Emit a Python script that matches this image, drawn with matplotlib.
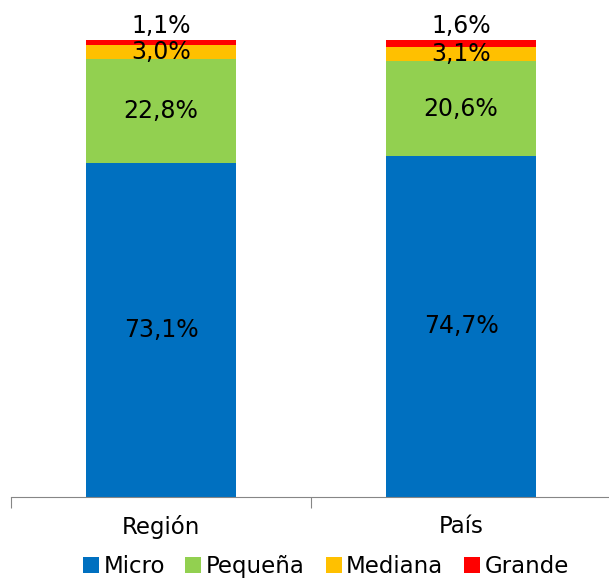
import matplotlib.pyplot as plt
import numpy as np

categorias = ['Región', 'País']
series = ['Micro', 'Pequeña', 'Mediana', 'Grande']
micro = [73.1, 74.7]
pequena = [22.8, 20.6]
mediana = [3.0, 3.1]
grande = [1.1, 1.6]
colores = ['#0070C0', '#92D050', '#FFC000', '#FF0000']

valores = [micro, pequena, mediana, grande]

fig = plt.figure(figsize=(6.09, 5.78), dpi=100)
ax = fig.add_axes([11/609, 81/578, 600/609, 457/578])

x = np.arange(len(categorias))
base = np.zeros(len(categorias))
for nombre, vals, col in zip(series, valores, colores):
    vals = np.array(vals)
    ax.bar(x, vals, 0.5, bottom=base, color=col, label=nombre)
    for i, v in enumerate(vals):
        if nombre == 'Grande':
            # etiqueta por encima de la barra
            y = base[i] + v + 3.0
        else:
            y = base[i] + v / 2
        ax.text(x[i], y, ('%.1f%%' % v).replace('.', ','), ha='center', va='center',
                fontsize=17, color='black')
    base += vals

ax.set_xlim(-0.5, 1.5)
ax.set_ylim(0, 100)
ax.set_yticks([])
for s in ['left', 'top', 'right']:
    ax.spines[s].set_visible(False)
ax.spines['bottom'].set_color('#868686')
ax.set_xticks([-0.5, 0.5, 1.5])
ax.set_xticklabels([])
ax.tick_params(axis='x', which='major', length=8, color='#868686', direction='out')
ax.set_xticks(x, minor=True)
ax.set_xticklabels(categorias, minor=True, fontsize=16.5)
ax.tick_params(axis='x', which='minor', length=0, pad=13)

fig.legend(loc='lower center', bbox_to_anchor=(0.535, -0.035), ncol=4, frameon=False,
           fontsize=16.5, handlelength=0.7, handleheight=0.7, handletextpad=0.2,
           columnspacing=0.9)

fig.savefig('out.png', dpi=100)
